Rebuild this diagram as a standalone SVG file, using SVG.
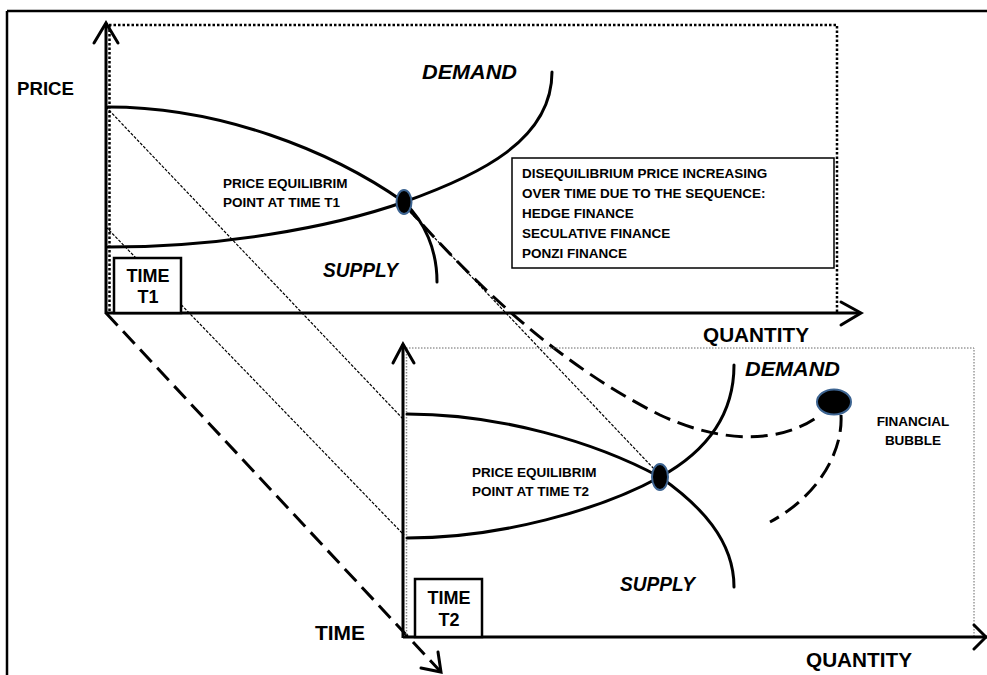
<svg xmlns="http://www.w3.org/2000/svg" width="987" height="675" viewBox="0 0 987 675">
<style>
.t{font-family:"Liberation Sans",Arial,sans-serif;font-weight:bold;fill:#000}
.s{font-size:13.5px}
.big{font-size:20px}
.it{font-style:italic;font-size:21px}
.ax{stroke:#000;stroke-width:3;fill:none}
.cv{stroke:#000;stroke-width:3;fill:none;stroke-linecap:round}
.hd{stroke:#000;stroke-width:3;fill:none;stroke-linecap:round;stroke-linejoin:miter}
.proj{stroke:#000;stroke-width:1.2;fill:none;stroke-dasharray:3 1.5}
.dash{stroke:#000;stroke-width:3;fill:none;stroke-dasharray:17 8}
.eq{fill:#000;stroke:#3d6491;stroke-width:2}
.box{fill:#fff;stroke:#000;stroke-width:2.5}
</style>
<rect width="987" height="675" fill="#fff"/>
<g id="frame">
<line x1="7" y1="11" x2="987" y2="11" stroke="#000" stroke-width="2.5"/>
<line x1="7" y1="11" x2="7" y2="675" stroke="#000" stroke-width="2.5"/>
</g>
<g id="connectors">
<line class="proj" x1="106" y1="107" x2="404" y2="420"/>
<line class="proj" x1="106" y1="227" x2="404" y2="535"/>
<line class="proj" x1="410" y1="212" x2="655" y2="470"/>
<path class="dash" d="M406,206 C480,290 560,365 660,415 C720,443 780,445 820,415"/>
<path class="dash" d="M841,415 C843,450 820,495 770,522"/>
<line class="dash" x1="106" y1="313" x2="440" y2="671"/>
<polyline class="hd" points="438,652 441,672 421,668"/>
</g>
<g id="chart-t1">
<path d="M109,25 H837 V313" fill="none" stroke="#000" stroke-width="2.5" stroke-dasharray="2.5 2"/>
<line x1="109.5" y1="25" x2="109.5" y2="313" stroke="#000" stroke-width="2.5" stroke-dasharray="2.5 2"/>
<line class="ax" x1="106" y1="314" x2="106" y2="23"/>
<polyline class="hd" points="94,43 106,23 118,43"/>
<line class="ax" x1="106" y1="313" x2="860" y2="313"/>
<polyline class="hd" points="841,302 861,313 841,325"/>
<path class="cv" d="M108,107 C220,107 330,150 404,202 C425,222 437,250 437,282"/>
<path class="cv" d="M108,247 C220,247 330,228 404,202 C480,175 552,140 552,72"/>
</g>
<g id="eq-t1"><ellipse class="eq" cx="404" cy="202" rx="7.5" ry="12"/></g>
<g id="chart-t2">
<path d="M406,348 H974 V637" fill="none" stroke="#666" stroke-width="1" stroke-dasharray="1.5 1.5"/>
<line x1="406.5" y1="348" x2="406.5" y2="637" stroke="#888" stroke-width="1.5" stroke-dasharray="1.5 1.5"/>
<line class="ax" x1="403" y1="638" x2="403" y2="344"/>
<polyline class="hd" points="393,363 403,344 414,363"/>
<line class="ax" x1="403" y1="637" x2="987" y2="637"/>
<polyline class="hd" points="974,625 986,637 974,649"/>
<path class="cv" d="M407,414 C500,414 595,442 660,477 C700,505 734,540 734,587"/>
<path class="cv" d="M407,538 C500,538 600,510 660,477 C700,455 734,420 734,365"/>
</g>
<g id="eq-t2"><ellipse class="eq" cx="660" cy="477" rx="8" ry="13"/></g>
<g id="bubble"><ellipse class="eq" cx="834" cy="402" rx="17" ry="12.5" stroke-width="2.5"/></g>
<g id="time-t1">
<rect class="box" x="114" y="258" width="67" height="55"/>
<text class="t" font-size="18" x="148" y="282" text-anchor="middle">TIME</text>
<text class="t" font-size="18" x="148" y="303" text-anchor="middle">T1</text>
</g>
<g id="time-t2">
<rect class="box" x="415" y="579" width="67" height="58"/>
<text class="t" font-size="18" x="449" y="604" text-anchor="middle">TIME</text>
<text class="t" font-size="18" x="449" y="626" text-anchor="middle">T2</text>
</g>
<g id="sequence-box">
<rect x="512" y="158" width="322" height="110" fill="#fff" stroke="#000" stroke-width="1.5"/>
<text class="t s" x="522" y="178">DISEQUILIBRIUM PRICE INCREASING</text>
<text class="t s" x="522" y="198">OVER TIME DUE TO THE SEQUENCE:</text>
<text class="t s" x="522" y="218">HEDGE FINANCE</text>
<text class="t s" x="522" y="238">SECULATIVE FINANCE</text>
<text class="t s" x="522" y="258">PONZI FINANCE</text>
</g>
<g id="labels">
<text class="t" font-size="19" x="17" y="95" textLength="57" lengthAdjust="spacingAndGlyphs">PRICE</text>
<text class="t big" x="703" y="342" textLength="106" lengthAdjust="spacingAndGlyphs">QUANTITY</text>
<text class="t big" x="806" y="667" textLength="106" lengthAdjust="spacingAndGlyphs">QUANTITY</text>
<text class="t big" x="315" y="640" textLength="50" lengthAdjust="spacingAndGlyphs">TIME</text>
<text class="t it" x="422" y="79" textLength="95" lengthAdjust="spacingAndGlyphs">DEMAND</text>
<text class="t it" x="323" y="277" textLength="75" lengthAdjust="spacingAndGlyphs">SUPPLY</text>
<text class="t it" x="745" y="376" textLength="95" lengthAdjust="spacingAndGlyphs">DEMAND</text>
<text class="t it" x="620" y="591" textLength="75" lengthAdjust="spacingAndGlyphs">SUPPLY</text>
<text class="t s" x="223" y="188">PRICE EQUILIBRIM</text>
<text class="t s" x="223" y="207">POINT AT TIME T1</text>
<text class="t s" x="472" y="477">PRICE EQUILIBRIM</text>
<text class="t s" x="472" y="496">POINT AT TIME T2</text>
<text class="t s" x="913" y="426" text-anchor="middle">FINANCIAL</text>
<text class="t s" x="913" y="445" text-anchor="middle">BUBBLE</text>
</g>
</svg>
